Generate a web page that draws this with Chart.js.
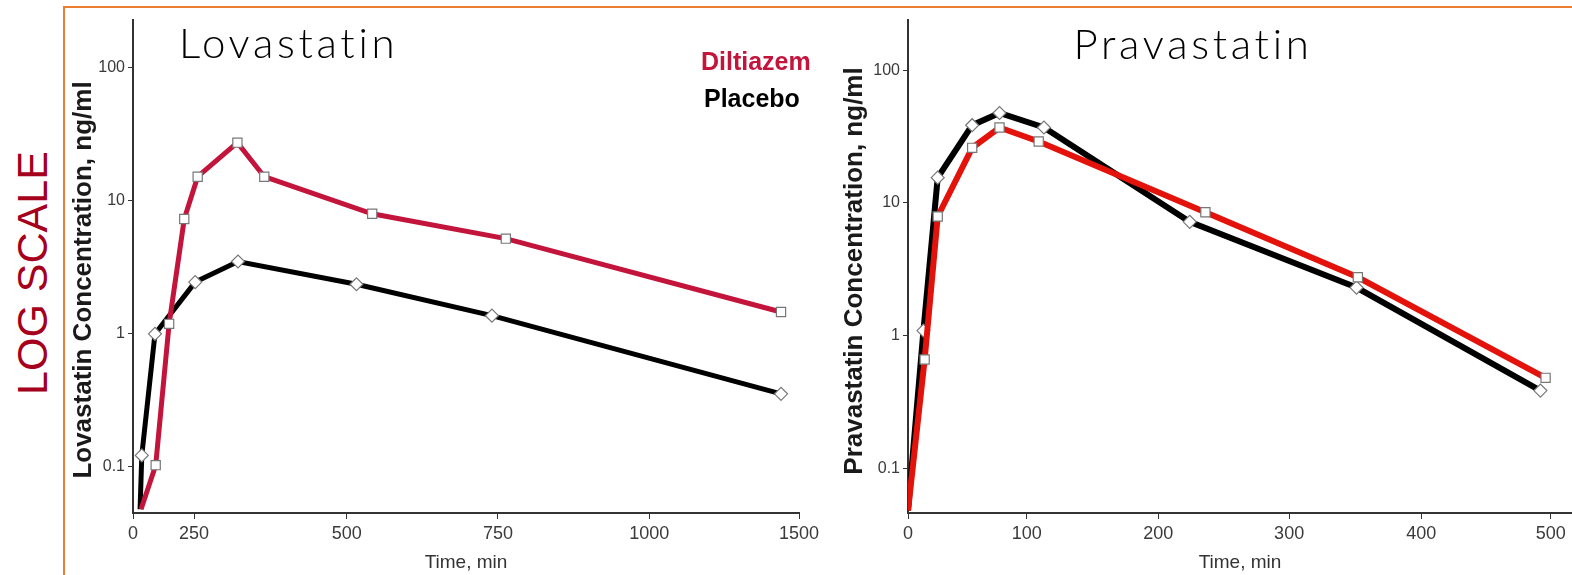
<!DOCTYPE html>
<html>
<head>
<meta charset="utf-8">
<script src="https://cdn.jsdelivr.net/npm/chart.js@4.4.1/dist/chart.umd.min.js"></script>
<style>
  html, body { margin: 0; padding: 0; background: #fff; overflow: hidden; }
  body { width: 1572px; height: 575px; position: relative; }
  #frame { position: absolute; left: 63px; top: 6px; width: 1600px; height: 700px; border: 2px solid #ed7d31; }
  #side { position: absolute; left: 32px; top: 273px; transform: translate(-50%, -50%) rotate(-90deg);
          color: #a5001c; font: 43px 'Liberation Sans', Arial, sans-serif; white-space: nowrap; }
  canvas { position: absolute; top: 0; }
  #lova { left: 64px; }
  #prava { left: 820px; }
</style>
</head>
<body>
<div id="frame"></div>
<div id="side">LOG SCALE</div>
<canvas id="lova" width="790" height="575"></canvas>
<canvas id="prava" width="800" height="575"></canvas>
<script>
'use strict';

// values (time in min, concentration in ng/ml)
let seriesNames = ['Diltiazem', 'Placebo'];

let lovaDiltTime = [33, 93, 148, 210, 256, 321, 365, 542, 763, 1440];
let lovaDiltConc = [0.048, 0.103, 1.19, 7.3, 15.2, 27.4, 15.2, 8.0, 5.2, 1.46];
let lovaPlacTime = [29, 36, 90, 252, 322, 516, 740, 1440];
let lovaPlacConc = [0.048, 0.122, 1.0, 2.45, 3.5, 2.36, 1.37, 0.354];

let pravDiltTime = [0, 14, 25, 54, 77, 109, 236, 352, 496];
let pravDiltConc = [0.048, 0.66, 7.9, 26, 37, 29, 8.5, 2.75, 0.48];
let pravPlacTime = [0, 13, 25, 54, 77, 113, 224, 351, 492];
let pravPlacConc = [0.048, 1.09, 15.5, 38.5, 47.6, 37, 7.2, 2.3, 0.385];

let lovaTimeTicks = [0, 250, 500, 750, 1000, 1500];
let pravTimeTicks = [0, 100, 200, 300, 400, 500];
let concTicks = [0.1, 1, 10, 100];


// the printed time axes are not evenly spaced, so map through the tick stops
function brokenAxis(id, stops, fracs) {
    class BrokenAxis extends Chart.LinearScale {
        getPixelForValue(v) {
            let i = 1;
            while (i < stops.length - 1 && v > stops[i]) i++;
            let t = fracs[i - 1] + (v - stops[i - 1]) / (stops[i] - stops[i - 1]) * (fracs[i] - fracs[i - 1]);
            return this.getPixelForDecimal(t);
        }
        getValueForPixel(px) {
            let t = this.getDecimalForPixel(px);
            let i = 1;
            while (i < fracs.length - 1 && t > fracs[i]) i++;
            return stops[i - 1] + (t - fracs[i - 1]) / (fracs[i] - fracs[i - 1]) * (stops[i] - stops[i - 1]);
        }
    }
    BrokenAxis.id = id;
    Chart.register(BrokenAxis);
}
brokenAxis('lovaTime', [0, 250, 500, 750, 1000, 1500], [0, 0.0916, 0.321, 0.548, 0.775, 1]);
brokenAxis('pravTime', [0, 100, 200, 300, 400, 500, 516], [0, 0.179, 0.377, 0.574, 0.773, 0.968, 1]);


let panelText = {
    id: 'panelText',
    afterDraw(chart, args, opts) {
        let ctx = chart.ctx;
        ctx.save();
        ctx.textBaseline = 'alphabetic';
        ctx.font = '300 42px Lato, sans-serif';
        ctx.letterSpacing = '3.7px';
        ctx.fillStyle = '#000';
        ctx.textAlign = opts.align;
        ctx.fillText(opts.title, opts.x, opts.y);
        ctx.letterSpacing = '0px';

        // rotated y axis title
        ctx.save();
        ctx.translate(opts.yTitleX, opts.yTitleY);
        ctx.rotate(-Math.PI / 2);
        ctx.font = 'bold 26px "Liberation Sans", Arial, sans-serif';
        ctx.fillStyle = '#1a1a1a';
        ctx.textAlign = 'center';
        ctx.textBaseline = 'middle';
        ctx.fillText(opts.yTitle, 0, 0);
        ctx.restore();

        if (opts.legend) {
            ctx.font = 'bold 25px "Liberation Sans", Arial, sans-serif';
            ctx.textAlign = 'left';
            chart.data.datasets.forEach((ds, i) => {
                ctx.fillStyle = ds.borderColor;
                ctx.fillText(ds.label, opts.legendX[i], opts.legendY[i]);
            });
        }
        ctx.restore();
    }
};


function pts(xs, ys) {
    return xs.map((x, i) => ({ x: x, y: ys[i] }));
}

function makeChart(id, cfg) {
    let family = '"Liberation Sans", Arial, sans-serif';
    return new Chart(document.getElementById(id), {
        type: 'line',
        data: {
            datasets: [{
                label: seriesNames[0],
                data: pts(cfg.diltTime, cfg.diltConc),
                borderColor: cfg.red,
                borderWidth: cfg.lineWidth,
                pointStyle: 'rect',
                pointRadius: (c) => c.dataIndex === 0 ? 0 : 6.5,
                pointBackgroundColor: '#fff',
                pointBorderColor: '#777',
                pointBorderWidth: 1.2
            }, {
                label: seriesNames[1],
                data: pts(cfg.placTime, cfg.placConc),
                borderColor: '#000',
                borderWidth: cfg.lineWidth,
                pointStyle: 'rectRot',
                pointRadius: (c) => c.dataIndex === 0 ? 0 : 6.5,
                pointBackgroundColor: '#fff',
                pointBorderColor: '#777',
                pointBorderWidth: 1.2
            }]
        },
        options: {
            responsive: false,
            animation: false,
            layout: { padding: { top: 20, right: cfg.padRight, left: 0, bottom: 0 } },
            elements: { line: { tension: 0 } },
            plugins: {
                legend: { display: false },
                tooltip: { enabled: false },
                panelText: cfg.text
            },
            scales: {
                x: {
                    type: cfg.xType,
                    min: 0,
                    max: cfg.xMax,
                    afterBuildTicks: (s) => { s.ticks = cfg.xTicks.map(v => ({ value: v })); },
                    afterFit: (s) => { s.height = cfg.xHeight; },
                    ticks: { font: { family: family, size: 18 }, color: '#3a3a3a', padding: 4, maxRotation: 0, callback: (v) => String(v) },
                    grid: { drawOnChartArea: false, tickLength: 6, color: '#333' },
                    border: { color: '#333', width: 2 },
                    title: {
                        display: true, text: 'Time, min', color: '#333',
                        font: { family: family, size: 19 },
                        padding: { top: 0, bottom: 1 }
                    }
                },
                y: {
                    type: 'logarithmic',
                    min: cfg.yMin,
                    max: cfg.yMax,
                    afterBuildTicks: (s) => { s.ticks = concTicks.map(v => ({ value: v })); },
                    afterFit: (s) => { s.width = cfg.yWidth; },
                    ticks: { font: { family: family, size: 16 }, color: '#3a3a3a', padding: 3, callback: (v) => String(v) },
                    grid: { drawOnChartArea: false, tickLength: 5, color: '#333' },
                    border: { color: '#333', width: 2 },
                    title: { display: false }
                }
            }
        },
        plugins: [panelText]
    });
}

makeChart('lova', {
    diltTime: lovaDiltTime, diltConc: lovaDiltConc,
    placTime: lovaPlacTime, placConc: lovaPlacConc,
    red: '#c3143c', lineWidth: 5,
    xType: 'lovaTime', xMax: 1500, xTicks: lovaTimeTicks, xHeight: 62,
    yMin: 0.045, yMax: 229, yWidth: 69,
    padRight: 55,
    text: {
        title: 'Lovastatin', x: 115, y: 58, align: 'left',
        yTitle: 'Lovastatin Concentration, ng/ml', yTitleX: 20, yTitleY: 280,
        legend: true, legendX: [637, 640], legendY: [70, 107]
    }
});

makeChart('prava', {
    diltTime: pravDiltTime, diltConc: pravDiltConc,
    placTime: pravPlacTime, placConc: pravPlacConc,
    red: '#e3120b', lineWidth: 6,
    xType: 'pravTime', xMax: 516, xTicks: pravTimeTicks, xHeight: 62,
    yMin: 0.046, yMax: 239, yWidth: 88,
    padRight: 48,
    text: {
        title: 'Pravastatin', x: 373, y: 59, align: 'center',
        yTitle: 'Pravastatin Concentration, ng/ml', yTitleX: 35, yTitleY: 271,
        legend: false
    }
});
</script>
</body>
</html>
